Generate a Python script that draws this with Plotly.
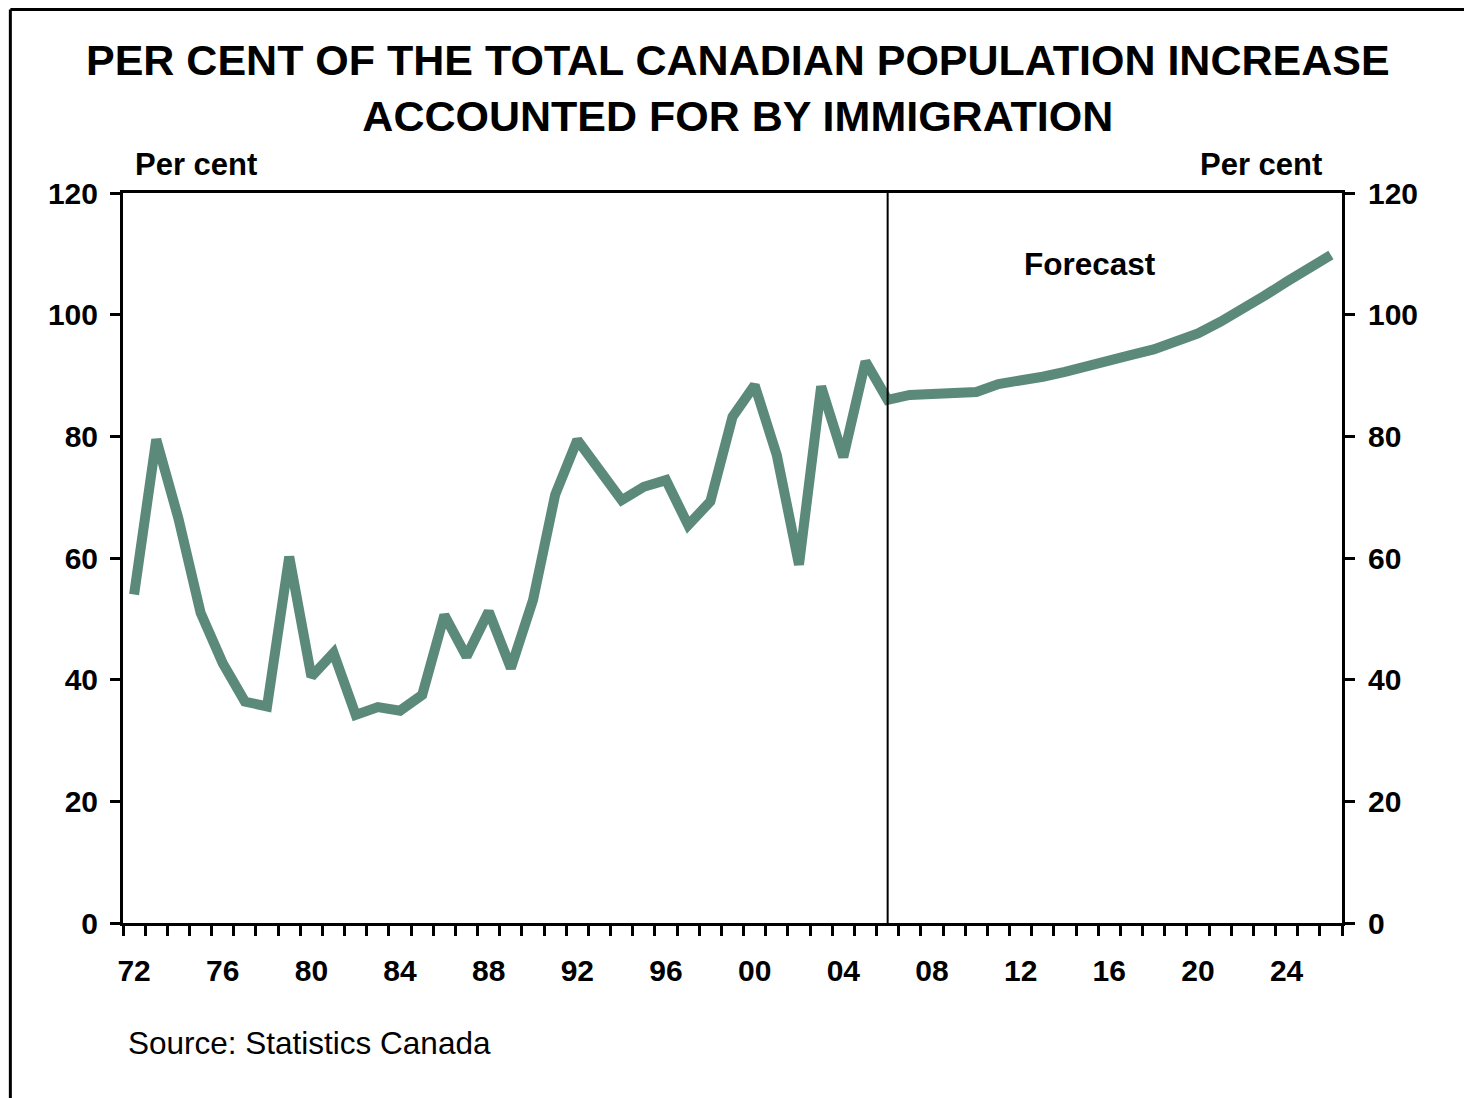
import plotly.graph_objects as go

years = list(range(1972, 2027))
values = [
    54.0, 79.5, 66.5, 51.0, 42.7, 36.4, 35.6, 60.2, 40.5, 44.4,
    34.2, 35.5, 34.9, 37.5, 50.6, 43.8, 51.2, 41.9, 53.1, 70.4,
    79.4, 74.7, 69.5, 71.7, 72.8, 65.4, 69.3, 83.2, 88.4, 76.9,
    58.9, 88.2, 76.6, 92.3, 86.0, 86.8, 87.1, 87.2, 87.3, 88.6,
    89.1, 89.8, 90.6, 91.4, 92.4, 93.4, 94.3, 95.6, 96.9, 98.8,
    100.8, 103.1, 105.4, 107.7, 109.8,
]
tick_years = list(range(1972, 2025, 4))
tick_labels = [f"{y % 100:02d}" for y in tick_years]
y_ticks = [0, 20, 40, 60, 80, 100, 120]
forecast_start = 2006

FONT = "Liberation Sans, Arial, sans-serif"
LINE = "#5B8A7A"

# page offset of the figure (body margin)
OFF = 8
W, H = 1472 - OFF, 1098 - OFF
# plot area in page pixels (reference)
L, R, T, B = 122.7, 1342.3, 193, 923

def px_x(px):
    return (px - L) / (R - L)

def px_y(py):
    return (B - py) / (B - T)

fig = go.Figure()
fig.add_trace(go.Scatter(
    x=years, y=values, mode="lines",
    line=dict(color=LINE, width=10),
    showlegend=False, hoverinfo="skip",
))
fig.add_trace(go.Scatter(x=[years[0]], y=[0], yaxis="y2", mode="markers",
                         marker=dict(opacity=0), showlegend=False, hoverinfo="skip"))

tickfont = dict(family=FONT, size=30, weight="bold")
fig.update_layout(
    width=W, height=H,
    margin=dict(l=L - OFF, r=1472 - R, t=T - OFF, b=1098 - B, pad=0),
    paper_bgcolor="white", plot_bgcolor="white",
    font=dict(family=FONT, color="black"),
    xaxis=dict(
        range=[1971.5, 2026.5], showgrid=False, zeroline=False,
        showline=True, linecolor="black", linewidth=3, mirror=True,
        tickvals=tick_years, ticktext=tick_labels, ticks="",
        ticklabelstandoff=19,
        tickfont=tickfont,
        minor=dict(ticks="outside", tick0=1971.5, dtick=1, ticklen=10,
                   tickwidth=3, tickcolor="black", showgrid=False),
    ),
    yaxis=dict(
        range=[0, 120], tickvals=y_ticks, showgrid=False, zeroline=False,
        showline=True, linecolor="black", linewidth=3,
        ticks="outside", ticklen=10, tickwidth=3, tickcolor="black",
        ticklabelstandoff=6,
        tickfont=tickfont,
    ),
    yaxis2=dict(
        range=[0, 120], tickvals=y_ticks, showgrid=False, zeroline=False,
        overlaying="y", side="right",
        showline=True, linecolor="black", linewidth=3,
        ticks="outside", ticklen=10, tickwidth=3, tickcolor="black",
        ticklabelstandoff=7,
        tickfont=tickfont,
    ),
)

fig.add_shape(type="line", xref="x", yref="paper", x0=forecast_start, x1=forecast_start,
              y0=0, y1=1, line=dict(color="black", width=2))

# outer frame (left and top)
fig.add_shape(type="line", xref="paper", yref="paper",
              x0=px_x(10), x1=px_x(10), y0=px_y(9.5), y1=px_y(1110),
              line=dict(color="black", width=3))
fig.add_shape(type="line", xref="paper", yref="paper",
              x0=px_x(10), x1=px_x(1480), y0=px_y(9.5), y1=px_y(9.5),
              line=dict(color="black", width=3))

ann = []
ann.append(dict(text="PER CENT OF THE TOTAL CANADIAN POPULATION INCREASE<br>ACCOUNTED FOR BY IMMIGRATION",
                xref="paper", yref="paper", x=px_x(738), y=px_y(88.5), xanchor="center", yanchor="middle",
                showarrow=False, align="center",
                font=dict(family=FONT, size=43, weight="bold")))
ann.append(dict(text="Per cent", xref="paper", yref="paper", x=px_x(133), y=px_y(165),
                xanchor="left", yanchor="middle", showarrow=False,
                font=dict(family=FONT, size=31, weight="bold")))
ann.append(dict(text="Per cent", xref="paper", yref="paper", x=px_x(1324), y=px_y(165),
                xanchor="right", yanchor="middle", showarrow=False,
                font=dict(family=FONT, size=31, weight="bold")))
ann.append(dict(text="Forecast", xref="paper", yref="paper", x=px_x(1090), y=px_y(264),
                xanchor="center", yanchor="middle", showarrow=False,
                font=dict(family=FONT, size=31.5, weight="bold")))
ann.append(dict(text="Source: Statistics Canada", xref="paper", yref="paper", x=px_x(126), y=px_y(1043),
                xanchor="left", yanchor="middle", showarrow=False,
                font=dict(family=FONT, size=31.5)))
fig.update_layout(annotations=ann)

fig.write_html("out.html")
